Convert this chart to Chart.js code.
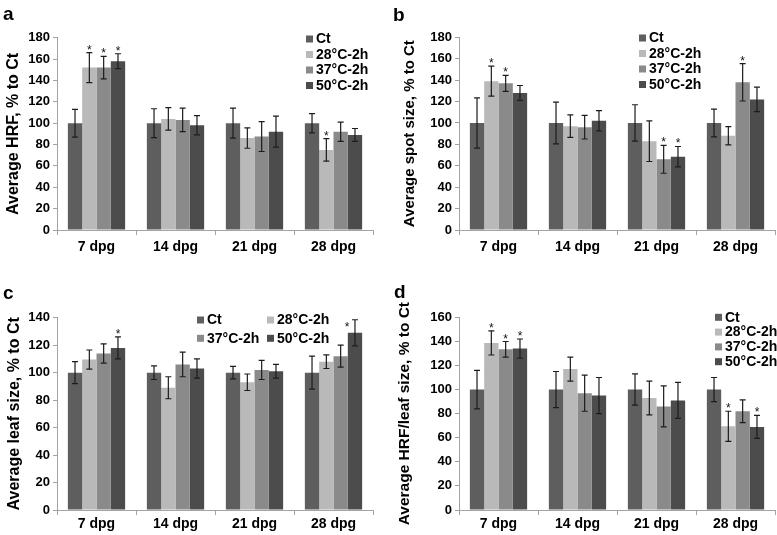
<!DOCTYPE html>
<html><head><meta charset="utf-8">
<script src="https://cdn.jsdelivr.net/npm/chart.js@4.4.1/dist/chart.umd.min.js"></script>
<style>
html,body{margin:0;padding:0;background:#fff;}
#wrap{position:relative;width:777px;height:535px;overflow:hidden;}
canvas{position:absolute;}
</style></head><body>
<div id="wrap">
<canvas id="ca" width="388" height="268" style="left:0;top:0"></canvas>
<canvas id="cb" width="387" height="268" style="left:390px;top:0"></canvas>
<canvas id="cc" width="388" height="267" style="left:0;top:268px"></canvas>
<canvas id="cd" width="387" height="267" style="left:390px;top:268px"></canvas>
</div>
<script>
// ---------- data ----------
const categories = ['7 dpg', '14 dpg', '21 dpg', '28 dpg'];
const seriesNames = ['Ct', '28°C-2h', '37°C-2h', '50°C-2h'];

// a: Average HRF
const hrfCt = [100, 100, 100, 100];
const hrf28 = [152, 104, 86, 75];
const hrf37 = [152, 103, 87.5, 92];
const hrf50 = [158, 98, 92, 89];
const hrfErrCt = [13, 13.5, 14, 9];
const hrfErr28 = [14, 10.5, 9.5, 10.5];
const hrfErr37 = [10.5, 11, 14, 9];
const hrfErr50 = [7, 9, 14.5, 6];
const hrfSigCt = [0, 0, 0, 0];
const hrfSig28 = [1, 0, 0, 1];
const hrfSig37 = [1, 0, 0, 0];
const hrfSig50 = [1, 0, 0, 0];

// b: Average spot size
const spotCt = [100, 100, 100, 100];
const spot28 = [139, 97, 83, 88];
const spot37 = [137, 96, 66, 138];
const spot50 = [128, 102, 68.5, 122];
const spotErrCt = [23.5, 19.5, 17, 13];
const spotErr28 = [14, 10.5, 19, 8.5];
const spotErr37 = [7.5, 11, 13, 17.5];
const spotErr50 = [7, 9.5, 9.5, 11.5];
const spotSigCt = [0, 0, 0, 0];
const spotSig28 = [1, 0, 0, 0];
const spotSig37 = [1, 0, 1, 1];
const spotSig50 = [0, 0, 1, 0];

// c: Average leaf size
const leafCt = [100, 100, 100, 100];
const leaf28 = [109.5, 89, 93, 108];
const leaf37 = [114, 106, 102, 112];
const leaf50 = [118, 103, 101, 129];
const leafErrCt = [8, 5, 4.5, 12];
const leafErr28 = [7, 8, 6, 5];
const leafErr37 = [7, 9, 7, 8];
const leafErr50 = [8, 7, 5, 9.5];
const leafSigCt = [0, 0, 0, 0];
const leafSig28 = [0, 0, 0, 0];
const leafSig37 = [0, 0, 0, 0];
const leafSig50 = [1, 0, 0, 1];

// d: Average HRF/leaf size
const ratioCt = [100, 100, 100, 100];
const ratio28 = [138.7, 117, 93, 69.5];
const ratio37 = [133.4, 97, 86, 82];
const ratio50 = [134, 95, 91, 69];
const ratioErrCt = [16, 15, 13, 10];
const ratioErr28 = [10, 10, 14, 12.5];
const ratioErr37 = [6.5, 15, 17, 9.5];
const ratioErr50 = [8, 15, 15, 9.5];
const ratioSigCt = [0, 0, 0, 0];
const ratioSig28 = [1, 0, 0, 1];
const ratioSig37 = [1, 0, 0, 0];
const ratioSig50 = [1, 0, 0, 1];

// ---------- styling ----------
const FONT = "'Liberation Sans', Arial, Helvetica, sans-serif";
const colors = ['#5e5e5e', '#b9b9b9', '#8a8a8a', '#4c4c4c'];
const axisColor = '#a3a3a3';

function makePanel(id, vals, errs, sigs, cfg) {
  const datasets = vals.map((v, i) => ({
    label: seriesNames[i],
    data: v,
    errors: errs[i],
    sig: sigs[i],
    backgroundColor: colors[i],
    borderWidth: 0,
    categoryPercentage: 0.725,
    barPercentage: 1.0
  }));

  const deco = {
    id: 'deco_' + id,
    afterDatasetsDraw(chart) {
      const ctx = chart.ctx, ys = chart.scales.y, area = chart.chartArea;
      chart.data.datasets.forEach((ds, i) => {
        const meta = chart.getDatasetMeta(i);
        meta.data.forEach((bar, j) => {
          const v = ds.data[j], e = ds.errors[j];
          const yt = ys.getPixelForValue(v + e), yb = ys.getPixelForValue(v - e);
          const x = bar.x;
          ctx.save();
          ctx.strokeStyle = '#1c1c1c';
          ctx.lineWidth = 1.2;
          ctx.beginPath();
          ctx.moveTo(x, yt); ctx.lineTo(x, yb);
          ctx.moveTo(x - 3, yt); ctx.lineTo(x + 3, yt);
          ctx.moveTo(x - 3, yb); ctx.lineTo(x + 3, yb);
          ctx.stroke();
          if (ds.sig[j]) {
            ctx.fillStyle = '#111';
            ctx.font = '12px ' + FONT;
            ctx.textAlign = 'center';
            ctx.textBaseline = 'alphabetic';
            let ax = x, ay = yt + 1;
            if (ay - 9 < area.top - 3) { ax = x - 8; ay = yt + 11; }
            ctx.fillText('*', ax, ay);
          }
          ctx.restore();
        });
      });
    },
    afterDraw(chart) {
      const ctx = chart.ctx;
      ctx.save();
      ctx.fillStyle = '#000';
      ctx.font = 'bold 19px ' + FONT;
      ctx.textAlign = 'left';
      ctx.textBaseline = 'alphabetic';
      ctx.fillText(cfg.letter, cfg.letterX, cfg.letterY);
      ctx.font = 'bold 14px ' + FONT;
      ctx.textBaseline = 'middle';
      chart.data.datasets.forEach((ds, i) => {
        const p = cfg.legend[i];
        ctx.fillStyle = ds.backgroundColor;
        ctx.fillRect(p[0], p[1] - 3.5, 7, 7);
        ctx.fillStyle = '#000';
        ctx.fillText(ds.label, p[0] + 10, p[1] + 0.5);
      });
      ctx.restore();
    }
  };

  return new Chart(document.getElementById(id), {
    type: 'bar',
    data: { labels: categories, datasets },
    plugins: [deco],
    options: {
      responsive: false,
      animation: false,
      devicePixelRatio: 1,
      layout: { padding: { left: 0, top: cfg.top, right: cfg.right, bottom: 0 } },
      plugins: { legend: { display: false }, tooltip: { enabled: false } },
      scales: {
        x: {
          offset: true,
          grid: { offset: true, drawOnChartArea: false, drawTicks: true, tickLength: 5, color: axisColor },
          border: { color: axisColor, width: 1 },
          ticks: { color: '#000', font: { family: FONT, size: 14, weight: 'bold' }, padding: cfg.xPad, maxRotation: 0 },
          afterFit(s) { s.height = cfg.xH; }
        },
        y: {
          min: 0, max: cfg.yMax,
          grid: { drawOnChartArea: false, drawTicks: true, tickLength: 4, color: axisColor },
          border: { color: axisColor, width: 1 },
          ticks: { stepSize: 20, color: '#000', font: { family: FONT, size: 13, weight: 'bold' }, padding: 3 },
          title: { display: true, text: cfg.title, color: '#000', font: { family: FONT, size: cfg.titleSize, weight: 'bold' }, padding: { top: cfg.titlePad, bottom: 0 } },
          afterFit(s) { s.width = cfg.yW; }
        }
      }
    }
  });
}

makePanel('ca', [hrfCt, hrf28, hrf37, hrf50], [hrfErrCt, hrfErr28, hrfErr37, hrfErr50], [hrfSigCt, hrfSig28, hrfSig37, hrfSig50], {
  yMax: 180, title: 'Average HRF, % to Ct', titleSize: 16, titlePad: 4,
  top: 37.7, right: 15, yW: 57, xH: 38, xPad: 4,
  letter: 'a', letterX: 3, letterY: 20,
  legend: [[306, 39], [306, 54.5], [306, 70], [306, 85.5]]
});
makePanel('cb', [spotCt, spot28, spot37, spot50], [spotErrCt, spotErr28, spotErr37, spotErr50], [spotSigCt, spotSig28, spotSig37, spotSig50], {
  yMax: 180, title: 'Average spot size, % to Ct', titleSize: 15, titlePad: 11,
  top: 37.3, right: 2, yW: 69, xH: 38, xPad: 4,
  letter: 'b', letterX: 3, letterY: 21,
  legend: [[249, 38], [249, 53.5], [249, 69], [249, 84.5]]
});
makePanel('cc', [leafCt, leaf28, leaf37, leaf50], [leafErrCt, leafErr28, leafErr37, leafErr50], [leafSigCt, leafSig28, leafSig37, leafSig50], {
  yMax: 140, title: 'Average leaf size, % to Ct', titleSize: 16, titlePad: 5,
  top: 49.7, right: 15, yW: 57, xH: 25, xPad: 1,
  letter: 'c', letterX: 3, letterY: 30.5,
  legend: [[197, 52], [267, 52], [197, 70.3], [267, 70.3]]
});
makePanel('cd', [ratioCt, ratio28, ratio37, ratio50], [ratioErrCt, ratioErr28, ratioErr37, ratioErr50], [ratioSigCt, ratioSig28, ratioSig37, ratioSig50], {
  yMax: 160, title: 'Average HRF/leaf size, % to Ct', titleSize: 15.5, titlePad: 5,
  top: 49.3, right: 2, yW: 69, xH: 25, xPad: 1,
  letter: 'd', letterX: 4, letterY: 30,
  legend: [[325, 49.3], [325, 64.1], [325, 78.9], [325, 93.7]]
});
</script>
</body></html>
